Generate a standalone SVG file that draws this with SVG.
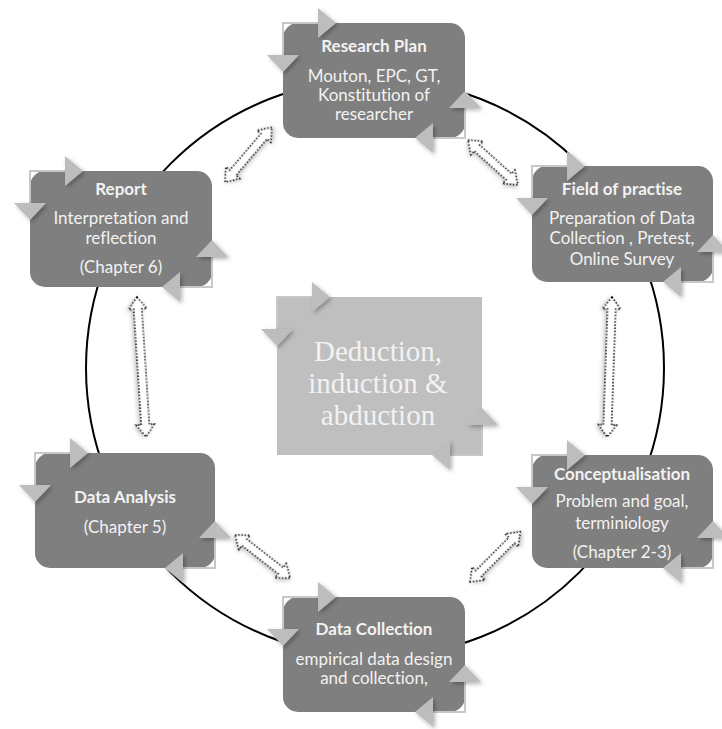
<svg xmlns="http://www.w3.org/2000/svg" width="722" height="729" viewBox="0 0 722 729">
<defs>
<filter id="sh" x="-50%" y="-50%" width="200%" height="200%">
<feDropShadow dx="2" dy="2" stdDeviation="2" flood-color="#000" flood-opacity="0.3"/>
</filter>
<filter id="sh2" x="-50%" y="-50%" width="200%" height="200%">
<feDropShadow dx="1" dy="2" stdDeviation="2" flood-color="#000" flood-opacity="0.25"/>
</filter>
</defs>
<style>
.box{fill:#7f7f7f}
.cbox{fill:#bfbfbf}
.frame{fill:none;stroke:#c8c8c8;stroke-width:2}
.tri{fill:#bdbdbd;filter:url(#sh)}
.t{font-family:Lato,"Liberation Sans",sans-serif;fill:#f2f2f2;text-anchor:middle;font-size:17px;font-variant-ligatures:none}
.tb{font-weight:bold}
.ct{font-family:"Liberation Serif",serif;fill:#f2f2f2;text-anchor:middle;font-size:29px}
.ring{fill:none;stroke:#000;stroke-width:2}
.con{fill:#fff;stroke:#000;stroke-width:1.6;stroke-dasharray:1.6 1.6;filter:url(#sh2)}
</style>
<rect width="722" height="729" fill="#fff"/>
<g id="cycle"><circle class="ring" cx="375" cy="368" r="289"/></g>
<g id="connectors">
<polygon class="con" transform="translate(225,182) rotate(-49.5)" points="0,0 12,-9 12,-4 60,-4 60,-9 72,0 60,9 60,4 12,4 12,9"/>
<polygon class="con" transform="translate(468,140) rotate(42)" points="0,0 12,-9 12,-4 55,-4 55,-9 67,0 55,9 55,4 12,4 12,9"/>
<polygon class="con" transform="translate(137,297) rotate(86.3)" points="0,0 12,-9 12,-4 128,-4 128,-9 140,0 128,9 128,4 12,4 12,9"/>
<polygon class="con" transform="translate(612,297) rotate(92)" points="0,0 12,-9 12,-4 128,-4 128,-9 140,0 128,9 128,4 12,4 12,9"/>
<polygon class="con" transform="translate(235,535) rotate(38)" points="0,0 12,-9 12,-4 58,-4 58,-9 70,0 58,9 58,4 12,4 12,9"/>
<polygon class="con" transform="translate(470,582) rotate(-45)" points="0,0 12,-9 12,-4 59,-4 59,-9 71,0 59,9 59,4 12,4 12,9"/>
</g>
<g id="node-research-plan">
<rect class="box" x="283" y="23" width="182" height="115" rx="15"/>
<polyline class="frame" points="283,55 283,23 318,23"/>
<polyline class="frame" points="465,108 465,138 433,138"/>
<polygon class="tri" points="318,8 336,23 318,38"/>
<polygon class="tri" points="267,55 299,55 283,72"/>
<polygon class="tri" points="449,108 465,91 481,108"/>
<polygon class="tri" points="433,123 415,138 433,153"/>
<text class="t tb" x="374" y="52">Research Plan</text>
<text class="t" x="374" y="82">Mouton, EPC, GT,</text>
<text class="t" x="374" y="101">Konstitution of</text>
<text class="t" x="374" y="120">researcher</text>
</g>
<g id="node-field">
<rect class="box" x="532" y="166" width="181" height="116" rx="15"/>
<polyline class="frame" points="532,198 532,166 567,166"/>
<polyline class="frame" points="713,252 713,282 681,282"/>
<polygon class="tri" points="567,151 585,166 567,181"/>
<polygon class="tri" points="516,198 548,198 532,215"/>
<polygon class="tri" points="697,252 713,235 729,252"/>
<polygon class="tri" points="681,267 663,282 681,297"/>
<text class="t tb" x="622" y="195">Field of practise</text>
<text class="t" x="622" y="224">Preparation of Data</text>
<text class="t" x="622" y="244">Collection , Pretest,</text>
<text class="t" x="622" y="265">Online Survey</text>
</g>
<g id="node-report">
<rect class="box" x="30" y="171" width="182" height="116" rx="15"/>
<polyline class="frame" points="30,203 30,171 65,171"/>
<polyline class="frame" points="212,257 212,287 180,287"/>
<polygon class="tri" points="65,156 83,171 65,186"/>
<polygon class="tri" points="14,203 46,203 30,220"/>
<polygon class="tri" points="196,257 212,240 228,257"/>
<polygon class="tri" points="180,272 162,287 180,302"/>
<text class="t tb" x="121" y="195">Report</text>
<text class="t" x="121" y="224">Interpretation and</text>
<text class="t" x="121" y="244">reflection</text>
<text class="t" x="121" y="273">(Chapter 6)</text>
</g>
<g id="node-center">
<rect class="cbox" x="277" y="297" width="205" height="158"/>
<polyline class="frame" points="277,329 277,297 312,297"/>
<polyline class="frame" points="482,425 482,455 450,455"/>
<polygon class="tri" points="312,282 330,297 312,312"/>
<polygon class="tri" points="261,329 293,329 277,346"/>
<polygon class="tri" points="466,425 482,408 498,425"/>
<polygon class="tri" points="450,440 432,455 450,470"/>
<text class="ct" x="378" y="361">Deduction,</text>
<text class="ct" x="378" y="393">induction &amp;</text>
<text class="ct" x="378" y="425">abduction</text>
</g>
<g id="node-data-analysis">
<rect class="box" x="35" y="453" width="180" height="115" rx="15"/>
<polyline class="frame" points="35,485 35,453 70,453"/>
<polyline class="frame" points="215,538 215,568 183,568"/>
<polygon class="tri" points="70,438 88,453 70,468"/>
<polygon class="tri" points="19,485 51,485 35,502"/>
<polygon class="tri" points="199,538 215,521 231,538"/>
<polygon class="tri" points="183,553 165,568 183,583"/>
<text class="t tb" x="125" y="503">Data Analysis</text>
<text class="t" x="125" y="533">(Chapter 5)</text>
</g>
<g id="node-conceptualisation">
<rect class="box" x="532" y="455" width="181" height="113" rx="15"/>
<polyline class="frame" points="532,487 532,455 567,455"/>
<polyline class="frame" points="713,538 713,568 681,568"/>
<polygon class="tri" points="567,440 585,455 567,470"/>
<polygon class="tri" points="516,487 548,487 532,504"/>
<polygon class="tri" points="697,538 713,521 729,538"/>
<polygon class="tri" points="681,553 663,568 681,583"/>
<text class="t tb" x="622" y="480">Conceptualisation</text>
<text class="t" x="622" y="507">Problem and goal,</text>
<text class="t" x="622" y="529">terminiology</text>
<text class="t" x="622" y="558">(Chapter 2-3)</text>
</g>
<g id="node-data-collection">
<rect class="box" x="283" y="597" width="182" height="115" rx="15"/>
<polyline class="frame" points="283,629 283,597 318,597"/>
<polyline class="frame" points="465,682 465,712 433,712"/>
<polygon class="tri" points="318,582 336,597 318,612"/>
<polygon class="tri" points="267,629 299,629 283,646"/>
<polygon class="tri" points="449,682 465,665 481,682"/>
<polygon class="tri" points="433,697 415,712 433,727"/>
<text class="t tb" x="374" y="635">Data Collection</text>
<text class="t" x="374" y="665">empirical data design</text>
<text class="t" x="374" y="684">and collection,</text>
</g>
</svg>
